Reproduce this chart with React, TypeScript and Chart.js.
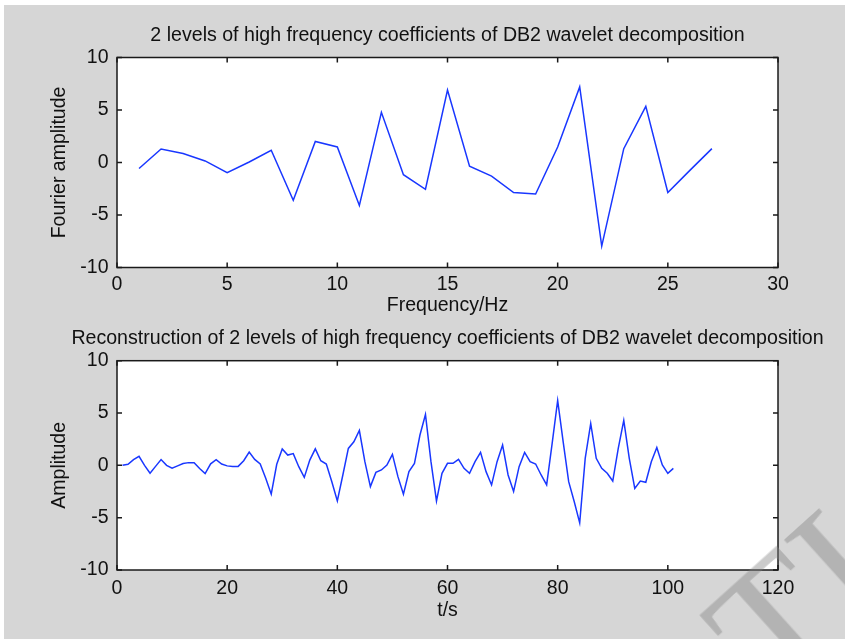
import { useEffect, useRef } from 'react';
import { Chart, registerables } from 'chart.js';

Chart.register(...registerables);

// ---------- data ----------
const topTitle = '2 levels of high frequency coefficients of DB2 wavelet decomposition';
const topXLabel = 'Frequency/Hz';
const topYLabel = 'Fourier amplitude';
const freqHz = [1, 2, 3, 4, 5, 6, 7, 8, 9, 10, 11, 12, 13, 14, 15, 16, 17, 18, 19, 20, 21, 22, 23, 24, 25, 26, 27];
const fourierAmplitude = [
  -0.57, 1.29, 0.85, 0.15, -0.97, 0.05, 1.16, -3.6, 2.0, 1.48, -4.09, 4.78, -1.16, -2.55,
  6.9, -0.35, -1.3, -2.86, -3.0, 1.48, 7.2, -7.96, 1.32, 5.35, -2.86, -0.75, 1.32,
];
const topXTicks = [0, 5, 10, 15, 20, 25, 30];
const topYTicks = [-10, -5, 0, 5, 10];

const bottomTitle = 'Reconstruction of 2 levels of high frequency coefficients of DB2 wavelet decomposition';
const bottomXLabel = 't/s';
const bottomYLabel = 'Amplitude';
const reconstruction = [
  0.0, 0.1, 0.55, 0.87, 0.0, -0.75, -0.1, 0.55, 0.0, -0.27,
  -0.05, 0.18, 0.26, 0.25, -0.3, -0.78, 0.15, 0.55, 0.13, -0.05,
  -0.1, -0.1, 0.44, 1.26, 0.57, 0.13, -1.24, -2.75, 0.1, 1.56,
  0.98, 1.12, -0.13, -1.15, 0.5, 1.58, 0.44, 0.13, -1.56, -3.4,
  -0.92, 1.62, 2.25, 3.33, 0.35, -2.03, -0.67, -0.44, 0.03, 1.05,
  -1.08, -2.76, -0.6, 0.19, 2.9, 4.86, 0.35, -3.4, -0.76, 0.19,
  0.19, 0.57, -0.29, -0.76, 0.35, 1.24, -0.6, -1.87, 0.35, 1.94,
  -0.92, -2.5, -0.13, 1.24, 0.35, 0.13, -0.92, -1.87, 2.1, 6.2,
  2.25, -1.56, -3.46, -5.5, 0.67, 4.0, 0.67, -0.29, -0.76, -1.5,
  1.62, 4.3, 0.67, -2.2, -1.5, -1.62, 0.35, 1.71, 0.03, -0.76,
  -0.29,
];
const timeS = reconstruction.map((_, i) => i + 1);
const bottomXTicks = [0, 20, 40, 60, 80, 100, 120];
const bottomYTicks = [-10, -5, 0, 5, 10];

const watermarkText = 'TIC';

// ---------- style ----------
const FONT = '"Liberation Sans", Arial, Helvetica, sans-serif';
const FS = 19.5;
const TITLE_FS = 19.6;
const TEXT = '#111111';
const LINE = 'rgb(25,55,255)';
const PAGE_GRAY = '#d6d6d6';

type Cfg = {
  xs: number[];
  ys: number[];
  xMin: number;
  xMax: number;
  xTicks: number[];
  yTicks: number[];
  title: string;
  titleY: number;
  titleBlock: number;
  xLabel: string;
  yLabel: string;
  xScaleHeight: number;
  xTickPad: number;
  xTitlePadBottom: number;
  yScaleWidth: number;
  yTickPad: number;
  yTitlePadTop: number;
  padLeft: number;
  padRight: number;
};

const framePlugin = {
  id: 'matlabFrame',
  beforeDraw(chart: any) {
    const { ctx, chartArea: a } = chart;
    ctx.save();
    ctx.fillStyle = '#ffffff';
    ctx.fillRect(a.left, a.top, a.right - a.left, a.bottom - a.top);
    ctx.restore();
  },
  afterDatasetsDraw(chart: any) {
    const { ctx, chartArea: a, scales } = chart;
    const tl = 5;
    ctx.save();
    ctx.strokeStyle = '#1a1a1a';
    ctx.lineWidth = 1.5;
    ctx.beginPath();
    scales.x.ticks.forEach((t: any) => {
      const px = scales.x.getPixelForValue(t.value);
      ctx.moveTo(px, a.bottom);
      ctx.lineTo(px, a.bottom - tl);
      ctx.moveTo(px, a.top);
      ctx.lineTo(px, a.top + tl);
    });
    scales.y.ticks.forEach((t: any) => {
      const py = scales.y.getPixelForValue(t.value);
      ctx.moveTo(a.left, py);
      ctx.lineTo(a.left + tl, py);
      ctx.moveTo(a.right, py);
      ctx.lineTo(a.right - tl, py);
    });
    ctx.stroke();
    ctx.strokeRect(a.left, a.top, a.right - a.left, a.bottom - a.top);
    ctx.restore();
  },
  afterDraw(chart: any) {
    const { ctx, chartArea: a } = chart;
    const o = chart.options.plugins.axesTitle;
    if (!o) return;
    ctx.save();
    ctx.fillStyle = TEXT;
    ctx.font = `${TITLE_FS}px ${FONT}`;
    ctx.textAlign = 'center';
    ctx.textBaseline = 'middle';
    ctx.fillText(o.text, (a.left + a.right) / 2, o.y);
    ctx.restore();
  },
};

function makeConfig(c: Cfg): any {
  const font = { family: FONT, size: FS, weight: 'normal' as const, lineHeight: 1.2 };
  return {
    type: 'line',
    data: {
      datasets: [
        {
          data: c.xs.map((x, i) => ({ x, y: c.ys[i] })),
          borderColor: LINE,
          borderWidth: 1.5,
          pointRadius: 0,
          tension: 0,
          fill: false,
        },
      ],
    },
    options: {
      responsive: false,
      animation: false,
      devicePixelRatio: 1,
      layout: { padding: { left: c.padLeft, right: c.padRight, top: c.titleBlock, bottom: 0 } },
      plugins: {
        legend: { display: false },
        tooltip: { enabled: false },
        title: { display: false },
        axesTitle: { text: c.title, y: c.titleY },
      },
      scales: {
        x: {
          type: 'linear',
          min: c.xMin,
          max: c.xMax,
          grid: { display: false, drawTicks: false },
          border: { display: false },
          ticks: { color: TEXT, font, padding: c.xTickPad, autoSkip: false, maxRotation: 0 },
          title: { display: true, text: c.xLabel, color: TEXT, font, padding: { top: 0, bottom: c.xTitlePadBottom } },
          afterBuildTicks: (s: any) => {
            s.ticks = c.xTicks.map((v) => ({ value: v }));
          },
          afterFit: (s: any) => {
            s.height = c.xScaleHeight;
          },
        },
        y: {
          type: 'linear',
          min: -10,
          max: 10,
          grid: { display: false, drawTicks: false },
          border: { display: false },
          ticks: { color: TEXT, font, padding: c.yTickPad, autoSkip: false },
          title: { display: true, text: c.yLabel, color: TEXT, font, padding: { top: c.yTitlePadTop, bottom: 0 } },
          afterBuildTicks: (s: any) => {
            s.ticks = c.yTicks.map((v) => ({ value: v }));
          },
          afterFit: (s: any) => {
            s.width = c.yScaleWidth;
          },
        },
      },
    },
    plugins: [framePlugin],
  };
}

export default function App() {
  const topRef = useRef<HTMLCanvasElement>(null);
  const botRef = useRef<HTMLCanvasElement>(null);

  useEffect(() => {
    const top = new Chart(
      topRef.current as HTMLCanvasElement,
      makeConfig({
        xs: freqHz,
        ys: fourierAmplitude,
        xMin: 0,
        xMax: 30,
        xTicks: topXTicks,
        yTicks: topYTicks,
        title: topTitle,
        titleY: 35.5,
        titleBlock: 57.5,
        xLabel: topXLabel,
        yLabel: topYLabel,
        xScaleHeight: 52.5,
        xTickPad: 5,
        xTitlePadBottom: 2.6,
        yScaleWidth: 77,
        yTickPad: 8.5,
        yTitlePadTop: 7.6,
        padLeft: 40,
        padRight: 67,
      })
    );
    const bottom = new Chart(
      botRef.current as HTMLCanvasElement,
      makeConfig({
        xs: timeS,
        ys: reconstruction,
        xMin: 0,
        xMax: 120,
        xTicks: bottomXTicks,
        yTicks: bottomYTicks,
        title: bottomTitle,
        titleY: 18.5,
        titleBlock: 40.7,
        xLabel: bottomXLabel,
        yLabel: bottomYLabel,
        xScaleHeight: 69,
        xTickPad: 6.6,
        xTitlePadBottom: 16.6,
        yScaleWidth: 77,
        yTickPad: 8.5,
        yTitlePadTop: 7.6,
        padLeft: 40,
        padRight: 67,
      })
    );
    return () => {
      top.destroy();
      bottom.destroy();
    };
  }, []);

  return (
    <div
      style={{
        position: 'fixed',
        left: 0,
        top: 0,
        width: 845,
        height: 639,
        background: '#ffffff',
        overflow: 'hidden',
      }}
    >
      <div style={{ position: 'absolute', left: 4, top: 5, right: 0, bottom: 0, background: PAGE_GRAY }} />
      <canvas
        ref={topRef}
        width={845}
        height={320}
        style={{ position: 'absolute', left: 0, top: 0, width: 845, height: 320 }}
      />
      <canvas
        ref={botRef}
        width={845}
        height={319}
        style={{ position: 'absolute', left: 0, top: 320, width: 845, height: 319 }}
      />
      <div
        style={{
          position: 'absolute',
          left: 676,
          top: 594,
          fontFamily: '"Liberation Serif", "DejaVu Serif", serif',
          fontSize: 180,
          lineHeight: 1,
          color: 'rgba(130,130,130,0.42)',
          transform: 'rotate(-42deg)',
          transformOrigin: '0 0',
          whiteSpace: 'nowrap',
          pointerEvents: 'none',
        }}
      >
        {watermarkText}
      </div>
    </div>
  );
}
